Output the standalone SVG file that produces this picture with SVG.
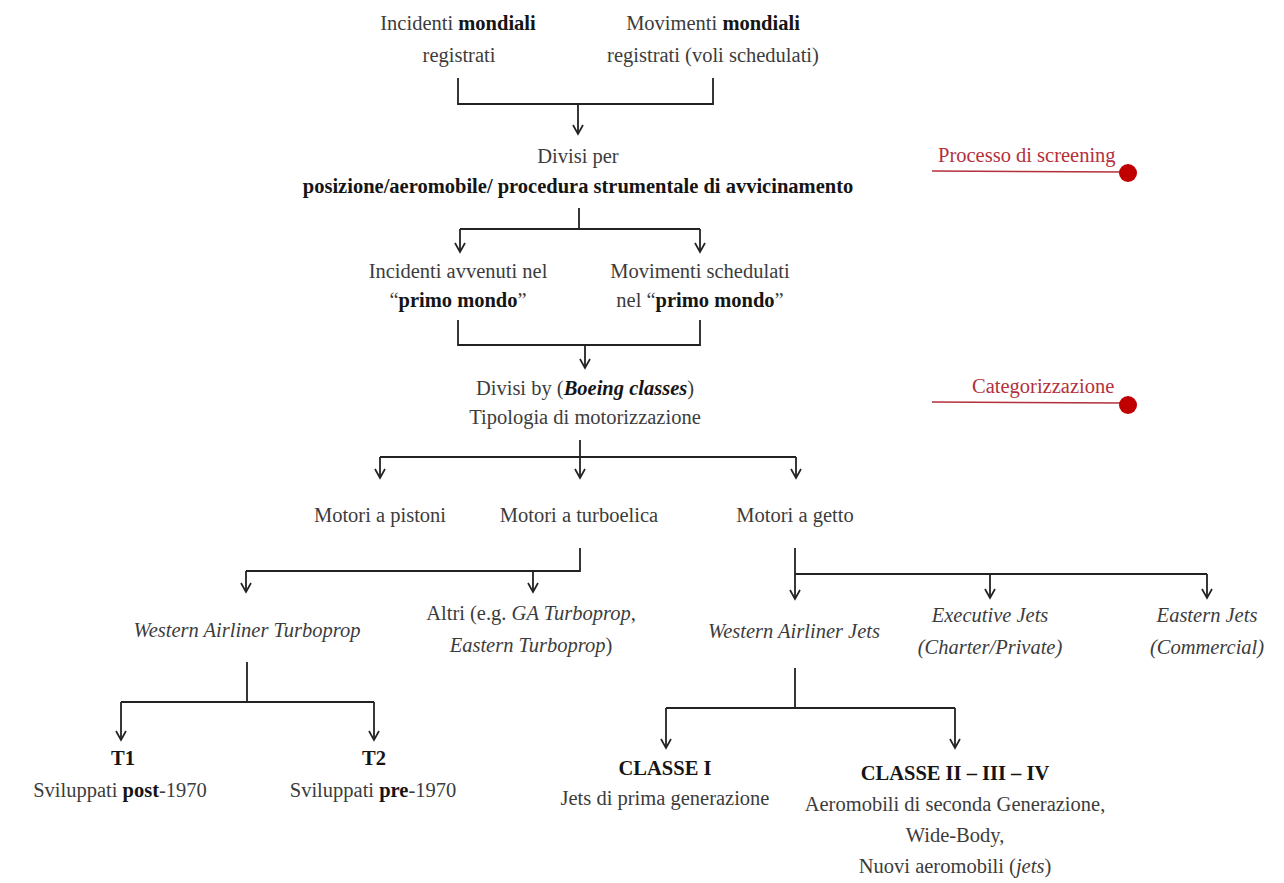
<svg xmlns="http://www.w3.org/2000/svg" width="1284" height="883" viewBox="0 0 1284 883">
<defs>
<style>
text{font-family:"Liberation Serif","Times New Roman",serif;font-size:20.5px;fill:#3c3c3c;text-anchor:middle}
.b{font-weight:bold;fill:#151515}
.i{font-style:italic}
.red{fill:#b3303c;text-anchor:start}
.c line,.c path{stroke:#222;stroke-width:1.8;fill:none}
.c .a{marker-end:url(#arr)}
.rl{stroke:#b3303c;stroke-width:1.5}
</style>
<marker id="arr" viewBox="0 0 12 12" refX="10" refY="6" markerWidth="12" markerHeight="12" markerUnits="userSpaceOnUse" orient="auto">
<path d="M1,1 L10,6 L1,11" fill="none" stroke="#222" stroke-width="1.7"/>
</marker>
</defs>
<rect width="1284" height="883" fill="#fff"/>

<g class="c" id="connectors">
<path d="M458,78 V104 H713 V78"/>
<line class="a" x1="578" y1="104" x2="578" y2="134"/>
<path d="M579,208 V229"/>
<line class="a" x1="460" y1="229" x2="460" y2="252"/>
<line x1="460" y1="229" x2="700" y2="229"/>
<line class="a" x1="700" y1="229" x2="700" y2="252"/>
<path d="M458,320 V345 H700 V320"/>
<line class="a" x1="585" y1="345" x2="585" y2="368"/>
<path d="M580,440 V457"/>
<line x1="380" y1="457" x2="796" y2="457"/>
<line class="a" x1="380" y1="457" x2="380" y2="478"/>
<line class="a" x1="580" y1="457" x2="580" y2="478"/>
<line class="a" x1="796" y1="457" x2="796" y2="478"/>
<path d="M580,548 V571 H246"/>
<line class="a" x1="246" y1="571" x2="246" y2="592"/>
<line class="a" x1="533" y1="571" x2="533" y2="592"/>
<line class="a" x1="795" y1="548" x2="795" y2="599"/>
<path d="M795,574 H1207"/>
<line class="a" x1="990" y1="574" x2="990" y2="598"/>
<line class="a" x1="1207" y1="574" x2="1207" y2="598"/>
<path d="M247,662 V702 H121"/>
<line x1="247" y1="702" x2="374" y2="702"/>
<line class="a" x1="121" y1="702" x2="121" y2="740"/>
<line class="a" x1="374" y1="702" x2="374" y2="740"/>
<path d="M795,668 V708 H666"/>
<line x1="795" y1="708" x2="955" y2="708"/>
<line class="a" x1="666" y1="708" x2="666" y2="748"/>
<line class="a" x1="955" y1="708" x2="955" y2="748"/>
</g>

<g id="n-incidenti-mondiali">
<text x="458" y="30">Incidenti <tspan class="b">mondiali</tspan></text>
<text x="459" y="62">registrati</text>
</g>
<g id="n-movimenti-mondiali">
<text x="713" y="30">Movimenti <tspan class="b">mondiali</tspan></text>
<text x="713" y="62">registrati (voli schedulati)</text>
</g>
<g id="n-divisi-per">
<text x="578" y="163">Divisi per</text>
<text x="578" y="193" class="b">posizione/aeromobile/ procedura strumentale di avvicinamento</text>
</g>
<g id="n-incidenti-primo">
<text x="458" y="278">Incidenti avvenuti nel</text>
<text x="458" y="307">“<tspan class="b">primo mondo</tspan>”</text>
</g>
<g id="n-movimenti-primo">
<text x="700" y="278">Movimenti schedulati</text>
<text x="700" y="307">nel “<tspan class="b">primo mondo</tspan>”</text>
</g>
<g id="n-divisi-by">
<text x="585" y="395">Divisi by (<tspan class="b i">Boeing classes</tspan>)</text>
<text x="585" y="424">Tipologia di motorizzazione</text>
</g>
<g id="n-pistoni"><text x="380" y="522">Motori a pistoni</text></g>
<g id="n-turboelica"><text x="579" y="522">Motori a turboelica</text></g>
<g id="n-getto"><text x="795" y="522">Motori a getto</text></g>
<g id="n-western-turboprop"><text x="247" y="637" class="i">Western Airliner Turboprop</text></g>
<g id="n-altri">
<text x="531" y="620">Altri (e.g. <tspan class="i">GA Turboprop</tspan>,</text>
<text x="531" y="652"><tspan class="i">Eastern Turboprop</tspan>)</text>
</g>
<g id="n-western-jets"><text x="794" y="638" class="i">Western Airliner Jets</text></g>
<g id="n-executive">
<text x="990" y="622" class="i">Executive Jets</text>
<text x="990" y="654" class="i">(Charter/Private)</text>
</g>
<g id="n-eastern">
<text x="1207" y="622" class="i">Eastern Jets</text>
<text x="1207" y="654" class="i">(Commercial)</text>
</g>
<g id="n-t1">
<text x="123" y="765" class="b">T1</text>
<text x="120" y="797">Sviluppati <tspan class="b">post</tspan>-1970</text>
</g>
<g id="n-t2">
<text x="374" y="765" class="b">T2</text>
<text x="373" y="797">Sviluppati <tspan class="b">pre</tspan>-1970</text>
</g>
<g id="n-classe1">
<text x="665" y="775" class="b">CLASSE I</text>
<text x="665" y="805">Jets di prima generazione</text>
</g>
<g id="n-classe2">
<text x="955" y="780" class="b">CLASSE II – III – IV</text>
<text x="955" y="811">Aeromobili di seconda Generazione,</text>
<text x="955" y="842">Wide-Body,</text>
<text x="955" y="873">Nuovi aeromobili (<tspan class="i">jets</tspan>)</text>
</g>

<g id="label-screening">
<text x="938" y="162" class="red">Processo di screening</text>
<line class="rl" x1="932" y1="171" x2="1125" y2="172"/>
<circle cx="1128" cy="173" r="9" fill="#c00000"/>
</g>
<g id="label-categorizzazione">
<text x="972" y="393" class="red">Categorizzazione</text>
<line class="rl" x1="932" y1="402" x2="1125" y2="403"/>
<circle cx="1128" cy="405" r="9" fill="#c00000"/>
</g>
</svg>
